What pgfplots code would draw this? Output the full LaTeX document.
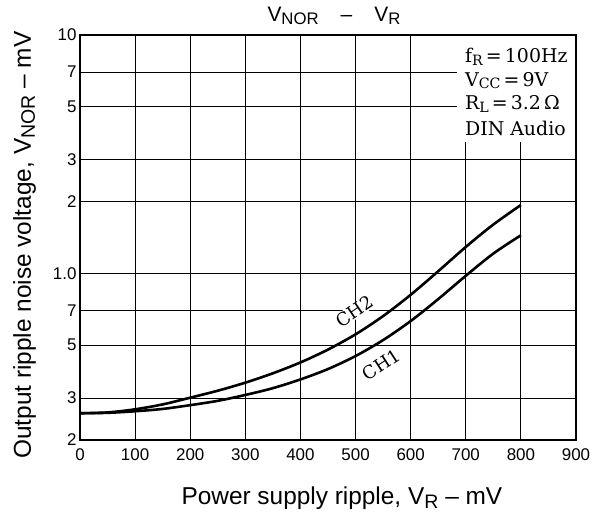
\documentclass[border=0pt]{standalone}
\usepackage{fontspec}
\setmainfont{Liberation Sans}
\newfontfamily\seriffam{DejaVu Serif}
\usepackage{graphicx}
\usepackage{pgfplots}
\pgfplotsset{compat=1.18}
\newcommand\sub[2][0.8]{\raisebox{-0.3ex}{\scalebox{#1}{#2}}}
\pgfplotstableread{
x y
0 0.259
50 0.261
100 0.269
150 0.282
200 0.301
250 0.322
300 0.348
350 0.381
400 0.423
450 0.479
500 0.555
550 0.662
600 0.813
650 1.021
700 1.291
750 1.603
800 1.936
}\chtwo
\pgfplotstableread{
x y
0 0.259
50 0.260
100 0.264
150 0.270
200 0.280
250 0.292
300 0.309
350 0.330
400 0.359
450 0.397
500 0.450
550 0.525
600 0.631
650 0.780
700 0.977
750 1.211
800 1.445
}\chone
\begin{document}
\begin{tikzpicture}
\path[use as bounding box] (-80bp,-79bp) rectangle (521bp,440bp);
\begin{axis}[at={(0,0)}, anchor=south west, scale only axis,
  width=496bp, height=405bp,
  xmin=0, xmax=900, ymode=log, ymin=0.2, ymax=10,
  xtick={0,100,...,900},
  ytick={0.2,0.3,0.5,0.7,1,2,3,5,7,10},
  yticklabels={2,3,5,7,1.0,2,3,5,7,10},
  minor ytick={}, major tick length=0pt,
  grid=major, grid style={black, line width=0.8bp},
  axis line style={line width=1.4bp},
  tick label style={font=\fontsize{17}{17}\selectfont},
  xticklabel style={yshift=-5bp},
  /pgf/number format/assume math mode=true,
  xlabel={Power supply ripple, V\sub{R} -- mV},
  ylabel={Output ripple noise voltage, V\sub{NOR} -- mV},
  label style={font=\fontsize{24.5}{24.5}\selectfont},
  xlabel style={at={(axis description cs:0.528,-0.160)}, anchor=base},
  ylabel style={at={(axis description cs:-0.099,0.481)}, anchor=base},
  title={V\sub{NOR}\hspace{22bp}--\hspace{22bp}V\sub{R}},
  title style={font=\fontsize{21}{21}\selectfont, at={(axis description cs:0.512,1.0198)}, anchor=base},
]
\addplot[black, line width=2.6bp, smooth] table {\chtwo};
\addplot[black, line width=2.6bp, smooth] table {\chone};
\fill[white] (rel axis cs:0.760,0.736) rectangle (rel axis cs:1,1);
\draw[line width=1.4bp] (rel axis cs:0,0) rectangle (rel axis cs:1,1);
\begin{scope}[every node/.style={anchor=base west, inner sep=0pt, font=\seriffam\fontsize{19}{19}\selectfont}]
\node at (rel axis cs:0.776,0.933) {f\sub[0.75]{R}\,=\,100Hz};
\node at (rel axis cs:0.776,0.874) {V\sub[0.75]{CC}\,=\,9V};
\node at (rel axis cs:0.776,0.815) {R\sub[0.75]{L}\,=\,3.2\,Ω};
\node at (rel axis cs:0.776,0.753) {DIN Audio};
\end{scope}
\node[rotate=34, fill=white, inner sep=0.5bp, font=\seriffam\fontsize{18}{18}\selectfont] at (rel axis cs:0.554,0.318) {CH2};
\node[rotate=33, fill=white, inner sep=0.5bp, font=\seriffam\fontsize{18}{18}\selectfont] at (rel axis cs:0.607,0.186) {CH1};
\end{axis}
\end{tikzpicture}
\end{document}
